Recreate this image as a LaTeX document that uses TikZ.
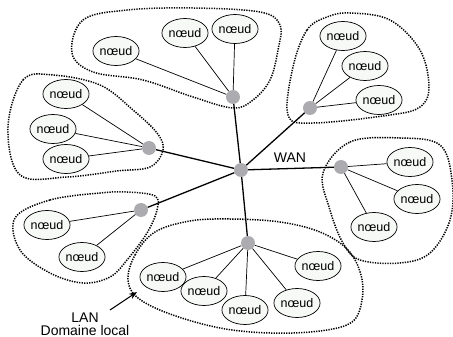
\documentclass[tikz,border=0pt]{standalone}
\usepackage{fontspec}
\setmainfont{Liberation Sans}
\usetikzlibrary{arrows.meta,shapes.geometric}

\definecolor{nodefill}{RGB}{247,249,246}
\definecolor{hubgray}{RGB}{172,172,176}

\begin{document}
\begin{tikzpicture}[x=1pt,y=-1pt,>={Stealth[length=8pt,width=6pt]},
  noeud/.style={ellipse,draw,line width=0.7pt,fill=nodefill,inner sep=0pt,
    minimum width=42pt,minimum height=29pt,font=\fontsize{12.5}{14}\selectfont},
  hub/.style={circle,fill=hubgray,inner sep=0pt,minimum size=14pt},
  lan/.style={line width=0.7pt},
  wan/.style={line width=1.3pt},
  lanzone/.style={line width=1.5pt,dash pattern=on 1.3pt off 1.2pt},
  lbl/.style={font=\fontsize{14}{14}\selectfont}]

  \useasboundingbox (0,0) rectangle (453,337);

  % Domaines locaux
  \draw[lanzone] plot[smooth cycle,tension=0.6] coordinates {(72,53) (83,20) (127,10) (193,8) (260,12) (280,25) (278,50) (270,80) (253,100) (233,108) (193,97) (143,80) (93,72)};
  \draw[lanzone] plot[smooth cycle,tension=0.6] coordinates {(293,67) (307,30) (327,17) (350,13) (390,20) (420,50) (429,87) (420,107) (390,115) (313,123) (288,115)};
  \draw[lanzone] plot[smooth cycle,tension=0.6] coordinates {(8,127) (23,80) (53,75) (100,85) (133,110) (157,133) (163,150) (150,167) (117,171) (67,177) (20,175)};
  \draw[lanzone] plot[smooth cycle,tension=0.6] coordinates {(15,218) (50,200) (100,193) (127,192) (155,196) (157,210) (147,233) (127,260) (110,277) (83,283) (50,273) (20,250)};
  \draw[lanzone] plot[smooth cycle,tension=0.6] coordinates {(323,173) (350,142) (400,138) (440,145) (452,180) (450,220) (430,253) (400,263) (360,260) (343,243) (330,210)};
  \draw[lanzone] plot[smooth cycle,tension=0.6] coordinates {(128,280) (135,255) (155,232) (190,221) (230,219) (280,222) (320,232) (348,250) (361,275) (362,300) (352,322) (320,331) (270,333) (220,328) (170,314) (138,298)};

  % Routeurs
  \node[hub] (h0) at (241,170) {};
  \node[hub] (hT) at (233,97) {};
  \node[hub] (hTR) at (310,108) {};
  \node[hub] (hR) at (341,167) {};
  \node[hub] (hB) at (248,243) {};
  \node[hub] (hLL) at (141,210) {};
  \node[hub] (hL) at (149,148) {};

  % Noeuds
  \node[noeud] (t1) at (116,51) {nœud};
  \node[noeud] (t2) at (185,33) {nœud};
  \node[noeud] (t3) at (235,29) {nœud};
  \node[noeud] (tr1) at (343,36) {nœud};
  \node[noeud] (tr2) at (365,66) {nœud};
  \node[noeud] (tr3) at (379,100) {nœud};
  \node[noeud] (l1) at (66,94) {nœud};
  \node[noeud] (l2) at (53,129) {nœud};
  \node[noeud] (l3) at (66,159) {nœud};
  \node[noeud] (ll1) at (47,225) {nœud};
  \node[noeud] (ll2) at (82,257) {nœud};
  \node[noeud] (r1) at (410,162) {nœud};
  \node[noeud] (r2) at (417,199) {nœud};
  \node[noeud] (r3) at (374,227) {nœud};
  \node[noeud] (b1) at (163,277) {nœud};
  \node[noeud] (b2) at (204,291) {nœud};
  \node[noeud] (b3) at (245,310) {nœud};
  \node[noeud] (b4) at (297,303) {nœud};
  \node[noeud] (b5) at (318,266) {nœud};

  % Liaisons locales
  \foreach \n in {t1,t2,t3} \draw[lan] (hT) -- (\n);
  \foreach \n in {tr1,tr2,tr3} \draw[lan] (hTR) -- (\n);
  \foreach \n in {l1,l2,l3} \draw[lan] (hL) -- (\n);
  \foreach \n in {ll1,ll2} \draw[lan] (hLL) -- (\n);
  \foreach \n in {r1,r2,r3} \draw[lan] (hR) -- (\n);
  \foreach \n in {b1,b2,b3,b4,b5} \draw[lan] (hB) -- (\n);

  % Liaisons WAN
  \foreach \n in {hT,hTR,hR,hB,hLL,hL} \draw[wan] (h0) -- (\n);

  \node[lbl] (wanlbl) at (290,158) {WAN};
  \node[lbl,align=center,inner sep=0pt] (lanlbl) at (85,324) {LAN\\[-1pt]Domaine local};
  \coordinate (lanfoot) at (110,310);
  \coordinate (lantip) at (137,292);
  \draw[->,line width=1pt] (lanfoot) -- (lantip);
\end{tikzpicture}
\end{document}
